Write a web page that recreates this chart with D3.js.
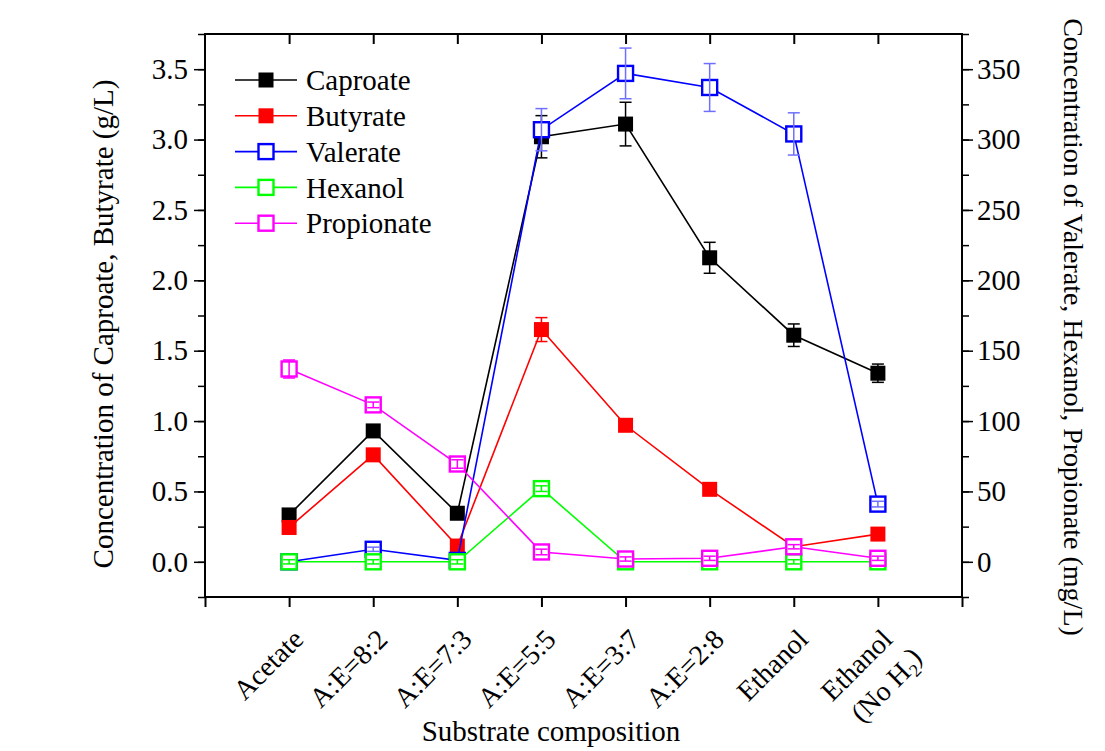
<!DOCTYPE html>
<html>
	<head>
		<meta charset="utf-8">
		<script src="https://cdnjs.cloudflare.com/ajax/libs/d3/7.8.5/d3.min.js" charset="utf-8"></script>
		<style>
			body { margin: 0; background: #fff; }
			svg text { font-family: 'Liberation Serif', 'Times New Roman', serif; fill: #000; }
		</style>
	</head>
	<body>
		<div id="chart"></div>

		<script>
			//////////////////////////////// Data //////////////////////////////
			var categories = [["Acetate"], ["A:E=8:2"], ["A:E=7:3"], ["A:E=5:5"], ["A:E=3:7"], ["A:E=2:8"], ["Ethanol"], ["Ethanol", "(No H2)"]];

			// left axis (g/L)
			var caproate    = [0.333, 0.93, 0.345, 3.02, 3.11, 2.16, 1.61, 1.34];
			var caproateErr = [0.02, 0.03, 0.02, 0.15, 0.155, 0.11, 0.08, 0.065];
			var butyrate    = [0.244, 0.76, 0.112, 1.65, 0.97, 0.515, 0.107, 0.197];
			var butyrateErr = [0.02, 0.03, 0.02, 0.085, 0.03, 0.03, 0.02, 0.02];

			// right axis (mg/L)
			var valerate      = [0, 8.9, 1, 307, 347, 337, 304, 41];
			var valerateErr   = [1, 1.5, 1, 15, 18, 17, 15, 2];
			var hexanol       = [0, 0, 0, 52, 0, 0, 0, 0];
			var hexanolErr    = [1.5, 1.5, 1.5, 2, 1.5, 1.5, 1.5, 1.5];
			var propionate    = [137, 111.5, 69.5, 7, 2, 2.5, 10.7, 2.5];
			var propionateErr = [6.4, 2, 3, 2, 1.5, 1.5, 1.5, 1.5];

			var leftTicks = [0, 0.5, 1.0, 1.5, 2.0, 2.5, 3.0, 3.5];
			var rightTicks = [0, 50, 100, 150, 200, 250, 300, 350];

			var series = [
				{name: "Caproate",   values: caproate,   err: caproateErr,   color: "#000000", errColor: "#000000", filled: true,  axis: "left"},
				{name: "Butyrate",   values: butyrate,   err: butyrateErr,   color: "#ff0000", errColor: "#ff0000", filled: true,  axis: "left"},
				{name: "Valerate",   values: valerate,   err: valerateErr,   color: "#0000ff", errColor: "#6f6fff", filled: false, axis: "right"},
				{name: "Hexanol",    values: hexanol,    err: hexanolErr,    color: "#00ff00", errColor: "#00ff00", filled: false, axis: "right"},
				{name: "Propionate", values: propionate, err: propionateErr, color: "#ff00ff", errColor: "#ff00ff", filled: false, axis: "right"}
			];

			//////////////////////////////// Setup //////////////////////////////
			var W = 1105, H = 751;
			var plot = {left: 205, right: 962, top: 34, bottom: 597};

			var svg = d3.select("#chart").append("svg")
				.attr("width", W)
				.attr("height", H)
				.style("background", "#fff");

			var x = d3.scaleLinear().domain([-1, 8]).range([plot.left, plot.right]);
			var yL = d3.scaleLinear().domain([-0.25, 3.75]).range([plot.bottom, plot.top]);
			var yR = d3.scaleLinear().domain([-25, 375]).range([plot.bottom, plot.top]);

			var fontSize = 29;

			//////////////////////////////// Axes //////////////////////////////
			var catIdx = d3.range(categories.length);

			// bottom ticks (outward) incl. frame ends
			svg.append("g")
				.attr("transform", "translate(0," + plot.bottom + ")")
				.call(d3.axisBottom(x).tickValues(d3.range(-1, 9)).tickSize(10).tickFormat(""))
				.call(function(g) { g.select(".domain").remove(); g.selectAll("line").attr("stroke-width", 2); });

			// top ticks (inward)
			svg.append("g")
				.attr("transform", "translate(0," + plot.top + ")")
				.call(d3.axisBottom(x).tickValues(catIdx).tickSize(10).tickFormat(""))
				.call(function(g) { g.select(".domain").remove(); g.selectAll("line").attr("stroke-width", 2); });

			// left axis
			svg.append("g")
				.attr("transform", "translate(" + plot.left + ",0)")
				.call(d3.axisLeft(yL).tickValues(d3.range(-0.25, 3.76, 0.25)).tickSize(7).tickFormat(""))
				.call(function(g) { g.select(".domain").remove(); g.selectAll("line").attr("stroke-width", 1.5); });
			svg.append("g")
				.attr("transform", "translate(" + plot.left + ",0)")
				.call(d3.axisLeft(yL).tickValues(leftTicks).tickSize(11).tickPadding(6).tickFormat(d3.format(".1f")))
				.call(function(g) {
					g.select(".domain").remove();
					g.selectAll("line").attr("stroke-width", 1.5);
					g.selectAll("text").style("font-size", fontSize + "px").attr("font-family", null);
				});

			// right axis
			svg.append("g")
				.attr("transform", "translate(" + plot.right + ",0)")
				.call(d3.axisRight(yR).tickValues(d3.range(-25, 376, 25)).tickSize(7).tickFormat(""))
				.call(function(g) { g.select(".domain").remove(); g.selectAll("line").attr("stroke-width", 1.5); });
			svg.append("g")
				.attr("transform", "translate(" + plot.right + ",0)")
				.call(d3.axisRight(yR).tickValues(rightTicks).tickSize(11).tickPadding(4).tickFormat(d3.format("d")))
				.call(function(g) {
					g.select(".domain").remove();
					g.selectAll("line").attr("stroke-width", 1.5);
					g.selectAll("text").style("font-size", fontSize + "px").attr("font-family", null);
				});

			// frame
			svg.append("rect")
				.attr("x", plot.left).attr("y", plot.top)
				.attr("width", plot.right - plot.left).attr("height", plot.bottom - plot.top)
				.attr("fill", "none").attr("stroke", "#000").attr("stroke-width", 2);

			// category labels, rotated
			var catLabels = svg.append("g").selectAll("text")
				.data(categories)
				.enter().append("text")
				.attr("transform", function(d, i) { return "translate(" + (x(i) + 16) + "," + (plot.bottom + 44) + ") rotate(-45)"; })
				.attr("text-anchor", "end")
				.style("font-size", "28px");

			catLabels.each(function(lines) {
				var t = d3.select(this);
				lines.forEach(function(line, k) {
					var m = line.match(/^(.*H)2(\))$/);
					if (m) {
						t.append("tspan").attr("x", k ? 8 : 0).attr("dy", k ? "1.3em" : 0).text(m[1]);
						t.append("tspan").attr("dy", "0.3em").style("font-size", "18px").text("2");
						t.append("tspan").attr("dy", "-0.3em").text(m[2]);
					} else {
						t.append("tspan").attr("x", k ? 8 : 0).attr("dy", k ? "1.3em" : 0).text(line);
					}
				});
			});

			// axis titles
			svg.append("text")
				.attr("transform", "translate(113,324) rotate(-90)")
				.attr("text-anchor", "middle")
				.style("font-size", fontSize + "px")
				.text("Concentration of Caproate,  Butyrate (g/L)");

			svg.append("text")
				.attr("transform", "translate(1064,327) rotate(90)")
				.attr("text-anchor", "middle")
				.style("font-size", "28px")
				.text("Concentration of Valerate, Hexanol, Propionate (mg/L)");

			svg.append("text")
				.attr("x", 551).attr("y", 741)
				.attr("text-anchor", "middle")
				.style("font-size", fontSize + "px")
				.text("Substrate composition");

			//////////////////////////////// Series //////////////////////////////
			var ms = 15;
			var capW = 12;

			series.forEach(function(s) {
				var y = s.axis === "left" ? yL : yR;
				var pts = s.values.map(function(v, i) { return {i: i, v: v, e: s.err[i]}; });
				var g = svg.append("g").attr("class", "series");

				g.append("path")
					.datum(pts)
					.attr("fill", "none")
					.attr("stroke", s.color)
					.attr("stroke-width", 1.6)
					.attr("d", d3.line().x(function(d) { return x(d.i); }).y(function(d) { return y(d.v); }));

				g.selectAll(".mk")
					.data(pts)
					.enter().append("rect")
					.attr("class", "mk")
					.attr("x", function(d) { return x(d.i) - ms / 2; })
					.attr("y", function(d) { return y(d.v) - ms / 2; })
					.attr("width", ms).attr("height", ms)
					.attr("fill", s.filled ? s.color : "#fff")
					.attr("stroke", s.color)
					.attr("stroke-width", s.filled ? 0 : 2.4);

				// error bars on top of markers
				var eb = g.selectAll(".eb")
					.data(pts)
					.enter().append("g")
					.attr("class", "eb")
					.attr("stroke", s.errColor)
					.attr("stroke-width", 1.5);
				eb.append("line")
					.attr("x1", function(d) { return x(d.i); }).attr("x2", function(d) { return x(d.i); })
					.attr("y1", function(d) { return y(d.v - d.e); })
					.attr("y2", function(d) { return y(d.v + d.e); });
				eb.append("line")
					.attr("x1", function(d) { return x(d.i) - capW / 2; }).attr("x2", function(d) { return x(d.i) + capW / 2; })
					.attr("y1", function(d) { return y(d.v + d.e); }).attr("y2", function(d) { return y(d.v + d.e); });
				eb.append("line")
					.attr("x1", function(d) { return x(d.i) - capW / 2; }).attr("x2", function(d) { return x(d.i) + capW / 2; })
					.attr("y1", function(d) { return y(d.v - d.e); }).attr("y2", function(d) { return y(d.v - d.e); });
			});

			//////////////////////////////// Legend //////////////////////////////
			var legend = svg.append("g").selectAll("g")
				.data(series)
				.enter().append("g")
				.attr("transform", function(d, i) { return "translate(235," + (80 + i * 35.8) + ")"; });

			legend.append("line")
				.attr("x1", 0).attr("x2", 62)
				.attr("stroke", function(d) { return d.color; })
				.attr("stroke-width", 1.6);
			legend.append("rect")
				.attr("x", 31 - ms / 2).attr("y", -ms / 2)
				.attr("width", ms).attr("height", ms)
				.attr("fill", function(d) { return d.filled ? d.color : "#fff"; })
				.attr("stroke", function(d) { return d.color; })
				.attr("stroke-width", function(d) { return d.filled ? 0 : 2.4; });
			legend.append("text")
				.attr("x", 71).attr("y", 0).attr("dy", "0.35em")
				.style("font-size", fontSize + "px")
				.text(function(d) { return d.name; });
		</script>
	</body>
</html>
